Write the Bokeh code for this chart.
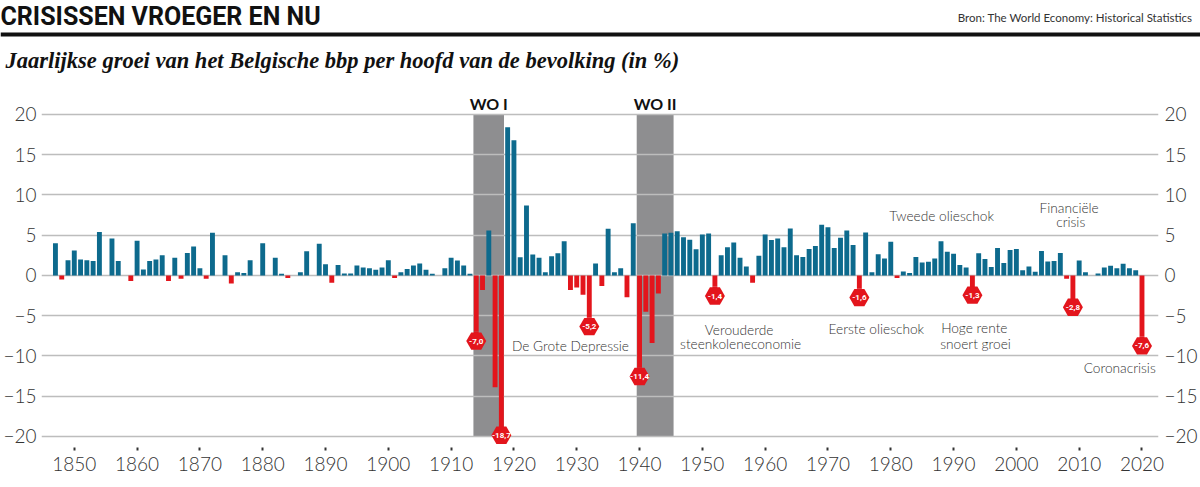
from bokeh.plotting import figure
from bokeh.layouts import column
from bokeh.models import ColumnDataSource, LinearAxis, FixedTicker, Range1d
from bokeh.core.properties import value
from bokeh.embed import file_html
from bokeh.resources import INLINE

# ---------------- data ----------------
years = list(range(1847, 2021))
growth = [
    4.0, -0.5, 1.9,
    3.1, 2.0, 1.9, 1.8, 5.4, 0.0, 4.6, 1.8, 0.0, -0.7,
    4.3, 0.75, 1.8, 2.0, 2.5, -0.7, 2.2, -0.4, 2.8, 3.6,
    0.9, -0.4, 5.3, 0.0, 2.5, -1.0, 0.4, 0.3, 1.9, 0.0,
    4.0, 0.0, 2.2, 0.2, -0.3, 0.0, 0.4, 3.0, 0.0, 3.95,
    1.4, -0.9, 1.3, 0.25, 0.25, 1.25, 1.0, 0.9, 0.7, 1.0,
    1.9, -0.3, 0.4, 0.8, 1.25, 1.5, 0.7, 0.2, 0.0, 0.9,
    2.2, 1.85, 1.25, 0.2, -7.0, -1.8, 5.6, -13.9, -18.7, 18.4,
    16.8, 2.25, 8.7, 2.6, 2.2, 0.4, 2.4, 2.75, 4.25, -1.8,
    -1.5, -2.4, -5.2, 1.5, -1.3, 5.8, 0.4, 0.9, -2.7, 6.5,
    -11.4, -4.5, -8.4, -2.25, 5.2, 5.3, 5.5, 4.75, 4.45, 3.25,
    5.1, 5.2, -1.4, 2.5, 3.5, 4.1, 2.2, 1.1, -0.9, 2.45,
    5.1, 4.4, 4.6, 3.5, 5.85, 2.5, 2.3, 3.3, 3.65, 6.3,
    6.0, 3.4, 4.7, 5.6, 3.8, -1.6, 5.35, 0.4, 2.65, 2.1,
    4.2, -0.3, 0.5, 0.3, 2.3, 1.6, 1.7, 2.1, 4.25, 2.95,
    2.7, 1.3, 1.0, -1.3, 2.75, 2.05, 1.05, 3.4, 1.55, 3.15,
    3.3, 0.65, 1.1, 0.45, 3.05, 1.75, 1.8, 2.8, -0.4, -2.8,
    1.85, 0.4, 0.0, 0.25, 1.0, 1.2, 0.9, 1.45, 0.9, 0.65,
    -7.6,
]

crisis_years = [1914, 1918, 1932, 1940, 1952, 1975, 1993, 2009, 2020]

war_names = ["WO I", "WO II"]
war_first = [1914, 1940]
war_last = [1918, 1945]

note_lines = ["De Grote Depressie", "Verouderde", "steenkoleneconomie",
              "Eerste olieschok", "Tweede olieschok", "Hoge rente", "snoert groei",
              "Financiële", "crisis", "Coronacrisis"]
note_year = [1929.0, 1955.85, 1956.1, 1977.7, 1988.1, 1993.3, 1993.5, 2008.4, 2008.65, 2016.45]
note_val = [-8.75, -6.65, -8.5, -6.6, 7.4, -6.5, -8.4, 8.45, 6.7, -11.4]

y_ticks = [-20, -15, -10, -5, 0, 5, 10, 15, 20]
x_ticks = list(range(1850, 2021, 10))

title_text = "CRISISSEN VROEGER EN NU"
subtitle_text = "Jaarlijkse groei van het Belgische bbp per hoofd van de bevolking (in %)"
source_text = "Bron: The World Economy: Historical Statistics"

BLUE = "#0d6a8d"
RED = "#e3151c"
GREY_BAND = "#8e8e90"
TXT = "#333333"
LIGHT_NAME = "Lato Light"
LIGHT = value(LIGHT_NAME)

# ---------------- header ----------------
W = 1200
HH = 85
hdr = figure(width=W, height=HH, x_range=Range1d(0, W), y_range=Range1d(HH, 0),
             toolbar_location=None, output_backend="svg", min_border=0,
             x_axis_type=None, y_axis_type=None, outline_line_color=None,
             title_location=None)
hdr.frame_align = False
hdr.xgrid.visible = False
hdr.ygrid.visible = False
hdr.quad(left=[0], right=[W], top=[32], bottom=[36], fill_color="#111111", line_color=None)
hdr.text(x=[0], y=[16], text=[title_text], text_baseline="middle",
         text_font=value("Roboto"), text_font_size="25px",
         text_font_style="bold", text_color="#111111")
hdr.text(x=[1192], y=[16.5], text=[source_text], text_align="right", text_baseline="middle",
         text_font=value("Lato"), text_font_size="11.5px", text_color="#333333")
hdr.text(x=[5], y=[60], text=[subtitle_text], text_baseline="middle",
         text_font=value("Liberation Serif"), text_font_size="22.5px",
         text_font_style="bold italic", text_color="#111111")

# ---------------- main chart ----------------
PH = 402
x0 = 1844.78
x1 = 2022.63
p = figure(width=W, height=PH, x_range=Range1d(x0, x1), y_range=Range1d(-21.37, 23.6),
           toolbar_location=None, output_backend="svg",
           min_border_left=38, min_border_right=38, min_border_top=0, min_border_bottom=40,
           outline_line_color=None, title_location=None)
p.frame_align = False

# war bands
band_left = [f - 0.45 for f in war_first]
band_right = [l + 0.42 for l in war_last]
p.quad(left=band_left, right=band_right, bottom=-20, top=20, fill_color=GREY_BAND,
       line_color=None, level="image")
p.text(x=[(a + b) / 2 for a, b in zip(band_left, band_right)], y=[21.4, 21.4], text=war_names,
       text_align="center", text_baseline="middle", text_font=value("Lato"),
       text_font_style="bold", text_font_size="16px", text_color="#111111")

colors = [BLUE if g >= 0 else RED for g in growth]
src = ColumnDataSource(dict(year=years, growth=growth, color=colors))
p.vbar(x="year", top="growth", bottom=0, width=0.78, fill_color="color", line_color=None, source=src)

# highlighted crisis years
cval = [growth[years.index(y)] for y in crisis_years]
hex_off = 1.15
p.vbar(x=crisis_years, top=cval, bottom=[v - hex_off for v in cval], width=0.78,
       fill_color=RED, line_color=None)
p.scatter(x=crisis_years, y=[v - hex_off for v in cval], marker="hex", size=20,
          fill_color=RED, line_color=None)
p.text(x=crisis_years, y=[v - hex_off for v in cval],
       text=[("%.1f" % v).replace(".", ",") for v in cval],
       text_align="center", text_baseline="middle", text_font=value("Roboto"),
       text_font_style="bold", text_font_size="8px", text_color="white")

# notes
p.text(x=note_year, y=note_val, text=note_lines, text_align="center", text_baseline="middle",
       text_font=LIGHT, text_font_size="13.7px", text_color=TXT)

# axes
p.xaxis.ticker = FixedTicker(ticks=x_ticks)
p.xaxis.axis_line_color = None
p.xaxis.major_tick_line_width = 2
p.xaxis.major_tick_line_color = "#333333"
p.xaxis.major_tick_in = 0
p.xaxis.major_tick_out = 3
p.xaxis.minor_tick_line_color = None
p.xaxis.major_label_standoff = 6
p.xaxis.major_label_text_font = LIGHT_NAME
p.xaxis.major_label_text_font_size = "19px"
p.xaxis.major_label_text_color = TXT
p.xgrid.visible = False

p.yaxis.ticker = FixedTicker(ticks=y_ticks)
ra = LinearAxis(ticker=FixedTicker(ticks=y_ticks))
p.add_layout(ra, "right")
for ax, so in ((p.yaxis[0], 5), (ra, 6)):
    ax.axis_line_color = None
    ax.major_tick_line_color = None
    ax.minor_tick_line_color = None
    ax.major_tick_out = 0
    ax.major_tick_in = 0
    ax.major_label_standoff = so
    ax.major_label_text_font = LIGHT_NAME
    ax.major_label_text_font_size = "19px"
    ax.major_label_text_color = TXT

p.ygrid.ticker = FixedTicker(ticks=y_ticks)
p.ygrid.grid_line_color = "#bdbdbd"
p.ygrid.grid_line_width = 1.6

layout = column(hdr, p, spacing=0)
open("out.html", "w").write(file_html(layout, INLINE))
